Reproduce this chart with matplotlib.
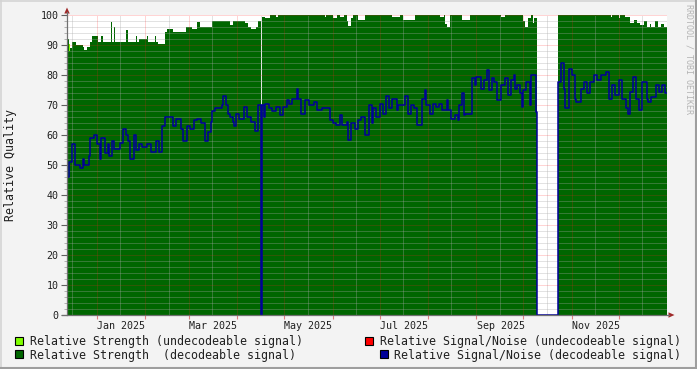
import numpy as np
import matplotlib
matplotlib.use("Agg")
import matplotlib.pyplot as plt
import matplotlib.dates as mdates
from matplotlib.patches import Rectangle, Polygon
from matplotlib.lines import Line2D

# ---------------- data ----------------
start_date = "2024-12-13"
span_days = 384

# Relative Signal/Noise (decodeable) - step points: day offset, value
snr_day = [0, 1, 3, 5, 8, 10, 11, 14, 15, 17, 19, 21, 22, 24, 26, 27, 29, 30, 34, 36,
           38, 39, 40, 43, 44, 46, 48, 51, 54, 57, 59, 61, 63, 68, 70, 73, 74, 77, 79, 81,
           83, 86, 88, 90, 92, 93, 95, 99, 100, 102, 103, 104, 106, 107, 108, 110, 113, 115, 118, 120,
           122, 124, 125, 126, 127, 129, 131, 134, 136, 138, 141, 142, 144, 147, 148, 150, 152, 155, 158, 160,
           163, 166, 168, 170, 172, 175, 176, 179, 180, 182, 184, 186, 188, 191, 193, 195, 196, 198, 200, 202,
           204, 206, 208, 211, 212, 216, 218, 220, 222, 224, 227, 229, 230, 232, 234, 236, 238, 240, 243, 244,
           246, 248, 250, 251, 253, 254, 255, 259, 261, 262, 265, 267, 269, 270, 272, 273, 275, 278, 280, 282,
           284, 286, 287, 288, 290, 291, 292, 294, 296, 297, 300, 301, 314, 316, 318, 319, 321, 323, 325, 326,
           329, 331, 333, 335, 337, 339, 342, 345, 347, 349, 351, 353, 355, 358, 359, 360, 362, 364, 366, 368,
           371, 372, 374, 377, 379, 381, 383]
snr_val = [46, 51, 57, 50, 49, 52, 50, 53, 59, 60, 57, 52, 59, 54, 57, 53, 58, 55.5, 57.5, 62,
           60, 58, 52, 60, 55, 57, 56, 57, 54.5, 58, 54.5, 63, 66, 63, 65.5, 62, 58, 63, 62, 65,
           65.5, 64, 58, 61, 64.5, 68, 69, 70, 73, 70, 67, 66, 64.5, 63, 67, 65.5, 69.5, 66, 64.5, 61.5,
           70, 0, 70, 66, 70.5, 69, 68, 69.5, 66.7, 69.5, 71.7, 70.5, 72, 75.5, 72, 67, 71.7, 70, 71, 68.3,
           69, 69, 65, 64, 63.3, 66.7, 63.3, 64.5, 58.3, 64, 62, 65, 66, 60, 70, 64, 69, 66, 70.5, 67,
           73, 69, 72, 68.3, 70, 73, 67, 70, 69, 63.3, 72, 75, 70, 67, 70.5, 69.4, 70.5, 68.3, 71.7, 68.3,
           65.5, 66.7, 65, 70, 74, 66.7, 67, 79, 76.7, 79.4, 75.5, 78.3, 81.7, 75, 79, 77.8, 71.7, 76.7, 79, 73.3,
           78.3, 80, 75.5, 76.7, 74, 69.4, 75, 77.8, 70, 80, 67.8, 0, 77.8, 84, 75.5, 69, 82, 80, 72, 71,
           75.5, 77.8, 74, 77.8, 80, 78.3, 80, 81, 72, 76.7, 73.3, 78.3, 72, 69, 67, 74.4, 79.4, 72, 68.3, 77.8,
           72, 71, 72.8, 76.7, 74.4, 76.7, 74]

# Relative Strength (decodeable) - step points
str_day = [0, 1, 2, 3, 6, 10, 11, 13, 15, 16, 20, 22, 23, 28, 29, 30, 31, 38, 39, 44,
           45, 46, 51, 52, 56, 57, 58, 63, 64, 68, 76, 80, 83, 85, 93, 104, 106, 114, 116, 118,
           121, 122, 124, 125, 127, 130, 134, 135, 165, 166, 170, 173, 175, 177, 179, 180, 182, 183, 186, 191,
           208, 213, 215, 223, 239, 241, 242, 243, 245, 253, 258, 278, 280, 292, 293, 295, 297, 298, 299, 301,
           314, 348, 349, 353, 354, 357, 360, 363, 365, 367, 369, 371, 373, 374, 376, 378, 380, 382]
str_val = [92, 88, 89, 91, 90, 89.4, 88.3, 89.4, 91, 93, 91, 93, 91, 97.8, 91, 96, 91, 95, 91, 93,
           91, 92, 93, 91, 93, 91, 90.3, 94.5, 95.5, 94.4, 96, 95.5, 97.8, 96, 98, 96.7, 98, 97.2, 96, 95.2,
           96, 98, 0, 99.5, 99, 100, 99.2, 100, 99.2, 100, 99, 100, 99.5, 100, 98, 96.5, 99, 100, 98.3, 100,
           99.2, 100, 98.3, 100, 99.2, 100, 97, 96, 100, 98.3, 100, 99.2, 100, 98, 96, 99, 100, 97.2, 99, 0,
           100, 99.5, 100, 99, 100, 99.5, 97.5, 98.5, 97.5, 96.7, 98, 96, 97, 96, 98, 96, 97, 96]

# Relative Strength (undecodeable) - single sample
weak_day = [1]
weak_val = [90.5]

label_months = ["2025-01", "2025-03", "2025-05", "2025-07", "2025-09", "2025-11"]
label_texts = ["Jan 2025", "Mar 2025", "May 2025", "Jul 2025", "Sep 2025", "Nov 2025"]

legend_items = [
    ("Relative Strength (undecodeable signal)", "#80ff00"),
    ("Relative Strength  (decodeable signal)", "#006600"),
    ("Relative Signal/Noise (undecodeable signal)", "#ff0000"),
    ("Relative Signal/Noise (decodeable signal)", "#000099"),
]

# ---------------- figure ----------------
W, H = 697, 369
def fx(x): return x / W
def fy(y): return 1 - y / H

MONO = "DejaVu Sans Mono"
fig = plt.figure(figsize=(W / 100, H / 100), dpi=100, facecolor="#f3f3f3")
ax = fig.add_axes([fx(67), fy(315), 600 / W, 300 / H])
ax.set_facecolor("white")

x0 = mdates.date2num(np.datetime64(start_date))
def xs(days):
    return x0 + np.asarray(days, dtype=float)

# light green (undecodeable strength)
ax.bar(xs(weak_day), weak_val, width=1.0, align="edge", color="#80ff00", lw=0, zorder=0.9)

# dark green area
sx = np.append(xs(str_day), x0 + span_days)
sy = np.append(np.asarray(str_val, float), str_val[-1])
ax.fill_between(sx, 0, sy, step="post", color="#006600", lw=0, zorder=1)

# SNR line
nx = np.append(xs(snr_day), x0 + span_days)
ny = np.append(np.asarray(snr_val, float), snr_val[-1])
ax.step(nx, ny, where="post", color="#000099", lw=1.1, zorder=3)

ax.set_xlim(x0, x0 + span_days)
ax.set_ylim(0, 100)

# grid (drawn on top of area, below line)
dots = (0, (1, 1))
minor_kw = dict(color="#a8a8a8", alpha=0.65, lw=0.72, ls=dots, zorder=2.5)
major_kw = dict(color="#ff2020", alpha=0.38, lw=0.72, ls=dots, zorder=2.6)
for v in range(2, 101, 2):
    ax.axhline(v, **(minor_kw if v % 10 else major_kw))

months = np.arange(np.datetime64("2025-01"), np.datetime64("2026-01") + 1, np.timedelta64(1, "M"))
month_starts = [mdates.date2num(m.astype("datetime64[D]")) for m in months]
mid_months = [mdates.date2num(m.astype("datetime64[D]") + np.timedelta64(15, "D"))
              for m in np.arange(np.datetime64("2024-12"), np.datetime64("2025-12") + 1, np.timedelta64(1, "M"))]
for m in mid_months:
    if x0 < m < x0 + span_days:
        ax.axvline(m, **minor_kw)
for m in month_starts:
    if x0 < m < x0 + span_days:
        ax.axvline(m, **major_kw)

for s in ax.spines.values():
    s.set_visible(False)

# x ticks: labels at mid-month, red ticks at month starts
label_pos = [mdates.date2num(np.datetime64(m).astype("datetime64[D]") + np.timedelta64(15, "D")) + 0.5
             for m in label_months]
ax.set_xticks(label_pos)
ax.set_xticklabels(label_texts, family=MONO, fontsize=7.2, color="#202020")
ax.set_xticks([m for m in month_starts if x0 < m < x0 + span_days], minor=True)
ax.tick_params(axis="x", which="major", length=0, pad=4)
ax.tick_params(axis="x", which="minor", length=3, color="#e08080", width=0.8)

ax.set_yticks(range(0, 101, 10))
ax.set_yticklabels([str(v) for v in range(0, 101, 10)], family=MONO, fontsize=7.2, color="#202020")
ax.set_yticks(range(0, 101, 2), minor=True)
ax.tick_params(axis="y", which="major", length=4, color="#606060", width=0.8, pad=2)
ax.tick_params(axis="y", which="minor", length=2, color="#b0b0b0", width=0.7)

# axis lines and arrows
fig.add_artist(Line2D([fx(67), fx(67)], [fy(315), fy(12)], transform=fig.transFigure,
                      color="#707070", lw=0.9))
fig.add_artist(Line2D([fx(62), fx(669)], [fy(315), fy(315)], transform=fig.transFigure,
                      color="#707070", lw=0.9))
fig.add_artist(Polygon([[fx(67), fy(7.5)], [fx(64.3), fy(13.5)], [fx(69.7), fy(13.5)]],
                       closed=True, transform=fig.transFigure, color="#a02828", lw=0))
fig.add_artist(Polygon([[fx(674.5), fy(315)], [fx(668.5), fy(312.3)], [fx(668.5), fy(317.7)]],
                       closed=True, transform=fig.transFigure, color="#a02828", lw=0))

# titles / labels
fig.text(fx(11), fy(165), "Relative Quality", rotation=90, ha="center", va="center",
         family=MONO, fontsize=8.4, color="#202020")
fig.text(fx(688.5), fy(4), "RRDTOOL / TOBI OETIKER", rotation=-90, ha="center", va="top",
         family=MONO, fontsize=6, color="#b4b4b4")

# legend
legend_boxes = [(15, 337), (15, 350), (365, 337), (380, 350)]
legend_text_x = [30, 30, 380, 394]
legend_text_y = [341.5, 355, 341.5, 355]
for (label, col), (bx, by), tx, ty in zip(legend_items, legend_boxes, legend_text_x, legend_text_y):
    fig.add_artist(Rectangle((fx(bx), fy(by + 8)), 8 / W, 8 / H, transform=fig.transFigure,
                             facecolor=col, edgecolor="black", lw=0.8))
    fig.text(fx(tx), fy(ty), label, ha="left", va="center", family=MONO, fontsize=8.4,
             color="#202020")

# frame shading
fig.add_artist(Line2D([0, 1], [fy(0.5), fy(0.5)], transform=fig.transFigure, color="#d4d4d4", lw=1.2))
fig.add_artist(Line2D([fx(0.5), fx(0.5)], [0, 1], transform=fig.transFigure, color="#d4d4d4", lw=1.2))
fig.add_artist(Line2D([0, 1], [fy(368), fy(368)], transform=fig.transFigure, color="#9e9e9e", lw=1.5))
fig.add_artist(Line2D([fx(696), fx(696)], [0, 1], transform=fig.transFigure, color="#9e9e9e", lw=1.5))

fig.savefig("out.png", dpi=100, facecolor=fig.get_facecolor())
